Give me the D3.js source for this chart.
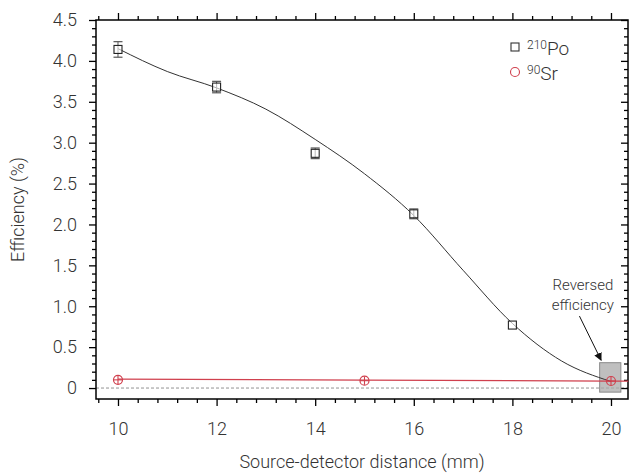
<!DOCTYPE html>
<html><head><meta charset="utf-8">
<script src="https://cdn.jsdelivr.net/npm/d3@7"></script>
<style>
body{margin:0;background:#fff;}
text{font-family:"Roboto","Liberation Sans",sans-serif;font-weight:300;fill:#333;}
</style></head>
<body><svg id="c" width="630" height="475"></svg>
<script>
// Data
const distances = [10, 12, 14, 16, 18, 20];
const poEff = [4.14, 3.68, 2.87, 2.13, 0.77, 0.08];
const poErr = [0.095, 0.07, 0.065, 0.06, 0.0, 0.0];
const srDist = [10, 15, 20];
const srEff = [0.10, 0.09, 0.086];
const srErr = [0.05, 0.05, 0.05];
// fitted curves
const poFitX = [10, 11, 12, 13, 14, 15, 16, 17, 18, 19, 20];
const poFitY = [4.15, 3.87, 3.67, 3.41, 3.04, 2.62, 2.11, 1.44, 0.79, 0.33, 0.08];
const srFitX = [10, 15, 20, 20.35];
const srFitY = [0.11, 0.097, 0.085, 0.084];
const xTicks = [10, 12, 14, 16, 18, 20];
const yTicks = [0, 0.5, 1.0, 1.5, 2.0, 2.5, 3.0, 3.5, 4.0, 4.5];
const yTickLabels = ["0", "0.5", "1.0", "1.5", "2.0", "2.5", "3.0", "3.5", "4.0", "4.5"];

const svg = d3.select("#c");
const L = 96, R = 628, T = 20, B = 399;
const x = d3.scaleLinear().domain([9.554, 20.345]).range([L, R]);
const y = d3.scaleLinear().domain([-0.134, 4.5]).range([B, T]);

const xMinor = d3.range(9.6, 20.35, 0.4).filter(v => !xTicks.some(t => Math.abs(t - v) < 1e-6));
const yMinor = d3.range(0, 4.5001, 0.1).filter(v => !yTicks.some(t => Math.abs(t - v) < 1e-6));

// dashed zero line
svg.append("line").attr("x1", L).attr("x2", R).attr("y1", y(0)).attr("y2", y(0))
  .attr("stroke", "#777").attr("stroke-width", 0.8).attr("stroke-dasharray", "3,2");

// axes
function axisG(gen, tx, ty){ return svg.append("g").attr("transform", `translate(${tx},${ty})`).call(gen); }
const fmtY = (d) => yTickLabels[yTicks.indexOf(d)];
axisG(d3.axisBottom(x).tickValues(xTicks).tickSize(7).tickPadding(16).tickFormat(d3.format("d")), 0, B);
axisG(d3.axisBottom(x).tickValues(xMinor).tickSize(4).tickFormat(""), 0, B);
axisG(d3.axisLeft(y).tickValues(yTicks).tickSize(7).tickPadding(12).tickFormat(fmtY), L, 0);
axisG(d3.axisLeft(y).tickValues(yMinor).tickSize(4).tickFormat(""), L, 0);
axisG(d3.axisBottom(x).tickValues(xTicks).tickSize(-7).tickFormat(""), 0, T);
axisG(d3.axisBottom(x).tickValues(xMinor).tickSize(-4).tickFormat(""), 0, T);
axisG(d3.axisLeft(y).tickValues(yTicks).tickSize(7).tickFormat(""), R, 0);
axisG(d3.axisLeft(y).tickValues(yMinor).tickSize(4).tickFormat(""), R, 0);
svg.selectAll(".domain").remove();
svg.selectAll(".tick line").attr("stroke", "#000").attr("stroke-width", 1.3);
svg.selectAll(".tick text").attr("font-size", 18).style("font-family", "Roboto").style("font-weight", 300).attr("fill", "#333");
svg.append("rect").attr("x", L).attr("y", T).attr("width", R - L).attr("height", B - T)
  .attr("fill", "none").attr("stroke", "#000").attr("stroke-width", 1.5);

// titles
svg.append("text").attr("x", (L + R) / 2).attr("y", 468).attr("text-anchor", "middle")
  .attr("font-size", 18).text("Source-detector distance (mm)");
svg.append("text").attr("transform", `translate(24,${(T + B) / 2}) rotate(-90)`).attr("text-anchor", "middle")
  .attr("font-size", 18).text("Efficiency (%)");

// highlight box
svg.append("rect").attr("x", x(19.77)).attr("y", y(0.31)).attr("width", x(20.2) - x(19.77)).attr("height", y(-0.05) - y(0.31))
  .attr("fill", "#a9a9a9").attr("fill-opacity", 0.75).attr("stroke", "#8a8a8a").attr("stroke-width", 1);

// fit lines
const line = d3.line().curve(d3.curveMonotoneX);
svg.append("path").attr("d", line(poFitX.map((v, i) => [x(v), y(poFitY[i])])))
  .attr("fill", "none").attr("stroke", "#333").attr("stroke-width", 1);
svg.append("path").attr("d", d3.line()(srFitX.map((v, i) => [x(v), y(srFitY[i])])))
  .attr("fill", "none").attr("stroke", "#d0404e").attr("stroke-width", 1.2);

// Po markers with error bars
const po = svg.append("g");
distances.forEach((d, i) => {
  const cx = x(d), cy = y(poEff[i]);
  if (poErr[i] > 0) {
    const y1 = y(poEff[i] + poErr[i]), y2 = y(poEff[i] - poErr[i]);
    po.append("line").attr("x1", cx).attr("x2", cx).attr("y1", y1).attr("y2", y2).attr("stroke", "#555").attr("stroke-width", 1);
    [y1, y2].forEach(yy => po.append("line").attr("x1", cx - 4.5).attr("x2", cx + 4.5).attr("y1", yy).attr("y2", yy).attr("stroke", "#555").attr("stroke-width", 1.2));
  }
  if (i < distances.length - 1)
    po.append("rect").attr("x", cx - 4).attr("y", cy - 4).attr("width", 8).attr("height", 8)
      .attr("fill", "#fff").attr("fill-opacity", 0.6).attr("stroke", "#222").attr("stroke-width", 1.1);
});

// Sr markers
srDist.forEach((d, i) => {
  const cx = x(d), cy = y(srEff[i]);
  const g = svg.append("g");
  g.append("circle").attr("cx", cx).attr("cy", cy).attr("r", 4.5).attr("fill", "none").attr("stroke", "#d0404e").attr("stroke-width", 1.2);
  g.append("line").attr("x1", cx).attr("x2", cx).attr("y1", y(srEff[i] + srErr[i])).attr("y2", y(srEff[i] - srErr[i])).attr("stroke", "#d0404e").attr("stroke-width", 1.1);
  g.append("line").attr("x1", cx - 4.5).attr("x2", cx + 4.5).attr("y1", cy).attr("y2", cy).attr("stroke", "#d0404e").attr("stroke-width", 1.1);
});

// annotation
svg.append("text").attr("x", x(19.43)).attr("y", y(1.2)).attr("text-anchor", "middle").attr("font-size", 15).text("Reversed");
svg.append("text").attr("x", x(19.43)).attr("y", y(0.96)).attr("text-anchor", "middle").attr("font-size", 15).text("efficiency");
svg.append("defs").append("marker").attr("id", "ah").attr("viewBox", "0 0 10 10").attr("refX", 9).attr("refY", 5)
  .attr("markerWidth", 8).attr("markerHeight", 8).attr("markerUnits", "userSpaceOnUse").attr("orient", "auto")
  .append("path").attr("d", "M0,0 L10,5 L0,10 Z").attr("fill", "#111");
svg.append("line").attr("x1", x(19.36)).attr("y1", y(0.88)).attr("x2", x(19.8)).attr("y2", y(0.34))
  .attr("stroke", "#111").attr("stroke-width", 1).attr("marker-end", "url(#ah)");

// legend
const lg = svg.append("g");
lg.append("rect").attr("x", 511).attr("y", 43).attr("width", 8).attr("height", 8).attr("fill", "#fff").attr("stroke", "#333").attr("stroke-width", 1.1);
const t1 = lg.append("text").attr("x", 527).attr("y", 55).attr("font-size", 19);
t1.append("tspan").attr("font-size", 12).attr("dy", -6).text("210");
t1.append("tspan").attr("dy", 6).text("Po");
lg.append("circle").attr("cx", 515).attr("cy", 72).attr("r", 4.5).attr("fill", "none").attr("stroke", "#d0404e").attr("stroke-width", 1.1);
const t2 = lg.append("text").attr("x", 527).attr("y", 80).attr("font-size", 19);
t2.append("tspan").attr("font-size", 12).attr("dy", -6).text("90");
t2.append("tspan").attr("dy", 6).text("Sr");
</script></body></html>
